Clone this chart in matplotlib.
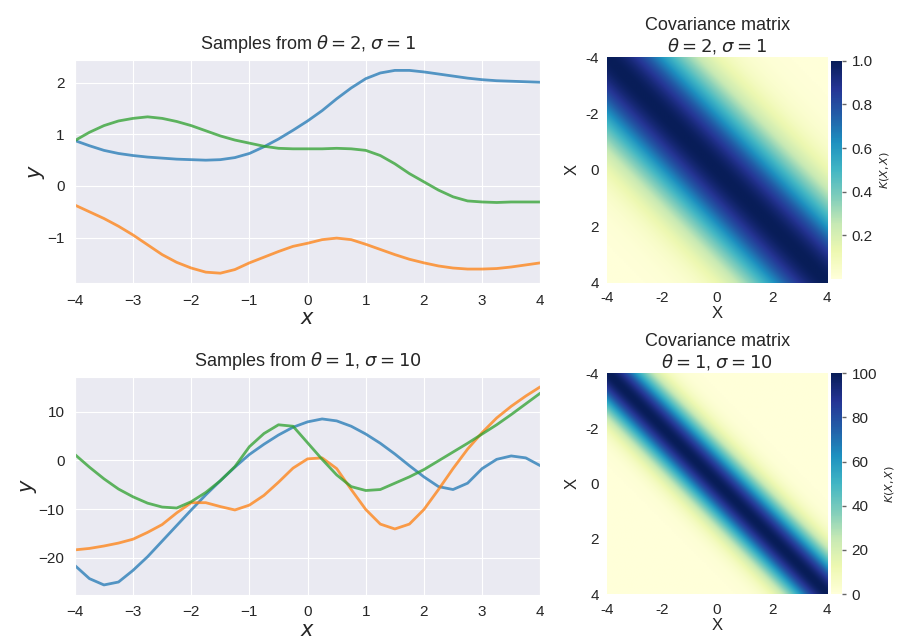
import numpy as np
import matplotlib
matplotlib.use("Agg")
import matplotlib.pyplot as plt
import seaborn as sns

sns.set_style("darkgrid")
plt.rcParams['font.family'] = ['Liberation Sans', 'DejaVu Sans']
plt.rcParams['text.color'] = '.15'
plt.rcParams['axes.labelcolor'] = '.15'
plt.rcParams['xtick.color'] = '.15'
plt.rcParams['ytick.color'] = '.15'

x_read = np.arange(-4, 4.01, 0.25)

# samples, theta=2, sigma=1
top_blue = [0.88, 0.78, 0.69, 0.63, 0.59, 0.56, 0.54, 0.52, 0.51, 0.50, 0.51, 0.55,
            0.63, 0.76, 0.91, 1.08, 1.26, 1.46, 1.69, 1.90, 2.08, 2.19, 2.24, 2.24,
            2.21, 2.17, 2.13, 2.09, 2.06, 2.04, 2.03, 2.02, 2.01]
top_orange = [-0.37, -0.50, -0.63, -0.78, -0.95, -1.14, -1.33, -1.48, -1.59, -1.67, -1.69,
              -1.62, -1.49, -1.38, -1.27, -1.17, -1.11, -1.04, -1.01, -1.04, -1.13, -1.23,
              -1.33, -1.42, -1.49, -1.55, -1.59, -1.61, -1.61, -1.60, -1.57, -1.53, -1.49]
top_green = [0.88, 1.04, 1.17, 1.26, 1.31, 1.34, 1.31, 1.25, 1.17, 1.07, 0.97, 0.89,
             0.83, 0.77, 0.73, 0.72, 0.72, 0.72, 0.73, 0.72, 0.69, 0.59, 0.43, 0.24,
             0.08, -0.08, -0.21, -0.29, -0.31, -0.32, -0.31, -0.31, -0.31]

# samples, theta=1, sigma=10
bot_blue = [-21.6, -24.3, -25.6, -25.0, -22.6, -19.8, -16.6, -13.4, -10.2, -7.1, -4.2,
            -1.4, 1.2, 3.3, 5.2, 6.8, 7.9, 8.5, 8.1, 7.0, 5.4, 3.5, 1.3, -1.1, -3.4,
            -5.4, -6.0, -4.7, -1.7, 0.2, 0.9, 0.5, -1.1]
bot_orange = [-18.4, -18.1, -17.6, -17.0, -16.2, -14.8, -13.2, -10.8, -8.7, -8.7, -9.5,
              -10.2, -9.2, -7.2, -4.5, -1.6, 0.3, 0.5, -1.7, -6.0, -10.1, -13.1, -14.1,
              -13.1, -10.1, -6.0, -1.7, 2.3, 5.7, 8.7, 11.1, 13.2, 15.1]
bot_green = [1.2, -1.4, -3.8, -5.9, -7.5, -8.8, -9.6, -9.8, -8.5, -6.6, -4.2, -1.3,
             2.8, 5.5, 7.3, 7.0, 3.6, 0.2, -3.0, -5.4, -6.2, -6.0, -4.7, -3.4, -1.9,
             -0.1, 1.7, 3.5, 5.4, 7.3, 9.4, 11.6, 13.8]

# kernel parameters of the two rows
thetas = [2, 1]
sigmas = [1, 10]
cbar_ticks = [[0.2, 0.4, 0.6, 0.8, 1.0], [0, 20, 40, 60, 80, 100]]
hm_ticks = [-4, -2, 0, 2, 4]

colors = ['#1f77b4', '#ff7f0e', '#2ca02c']
samples = [[top_blue, top_orange, top_green], [bot_blue, bot_orange, bot_green]]


def rbf(x1, x2, theta, sigma):
    d = x1[:, None] - x2[None, :]
    return sigma ** 2 * np.exp(-d ** 2 / (2 * theta ** 2))


fig = plt.figure(figsize=(9.02, 6.41), dpi=100)

line_pos = [[0.083, 0.558, 0.516, 0.348], [0.083, 0.072, 0.516, 0.340]]
hm_pos = [[0.673, 0.559, 0.244, 0.352], [0.673, 0.073, 0.244, 0.345]]
cb_pos = [[0.921, 0.565, 0.013, 0.340], [0.921, 0.073, 0.013, 0.345]]

xg = np.linspace(-4, 4, 120)

for row in range(2):
    th, sg = thetas[row], sigmas[row]

    ax = fig.add_axes(line_pos[row])
    for ys, c in zip(samples[row], colors):
        ax.plot(x_read, ys, color=c, lw=2, alpha=0.75)
    ax.set_xlim(-4, 4)
    ax.set_xticks(range(-4, 5))
    ax.tick_params(labelsize=11, pad=4)
    ax.set_xlabel('$x$', fontsize=15, labelpad=1)
    ax.set_ylabel('$y$', fontsize=15, labelpad=0)
    ax.set_title(r'Samples from $\theta = %d$, $\sigma = %d$' % (th, sg), fontsize=13, pad=8)

    K = rbf(xg, xg, th, sg)
    hax = fig.add_axes(hm_pos[row])
    im = hax.imshow(K, cmap='YlGnBu', extent=[-4, 4, 4, -4], aspect='auto',
                    interpolation='bilinear')
    hax.grid(False)
    for s in hax.spines.values():
        s.set_visible(False)
    hax.set_xticks(hm_ticks)
    hax.set_xticklabels([str(t) for t in hm_ticks])
    hax.set_yticks(hm_ticks)
    hax.set_yticklabels([str(t) for t in hm_ticks])
    hax.tick_params(length=0, labelsize=11, pad=6)
    hax.set_xlabel('X', fontsize=12, labelpad=1)
    hax.set_ylabel('X', fontsize=12, labelpad=4)
    hax.set_title('Covariance matrix\n' + r'$\theta = %d$, $\sigma = %d$' % (th, sg),
                  fontsize=13, pad=4, linespacing=1.15)

    cax = fig.add_axes(cb_pos[row])
    cb = fig.colorbar(im, cax=cax)
    cb.outline.set_visible(False)
    cb.set_ticks(cbar_ticks[row])
    cax.tick_params(labelsize=11, length=3, width=1, color='.4')
    cb.set_label('$K(X, X)$', fontsize=8, labelpad=4)

plt.savefig('out.png', dpi=100)
